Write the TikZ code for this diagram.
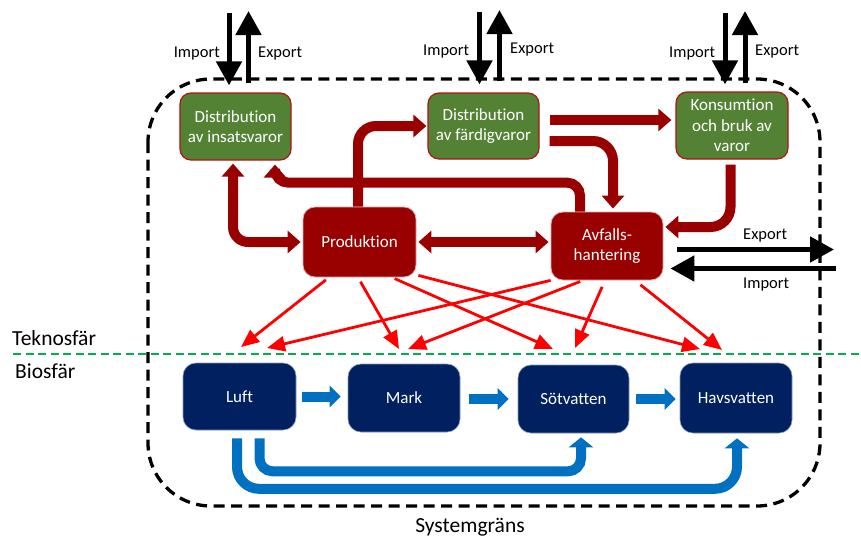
\documentclass[tikz,border=0pt]{standalone}
\usepackage{fontspec}
\setmainfont{Carlito}[Ligatures={NoCommon}]
\usetikzlibrary{arrows.meta,calc}
\definecolor{gfill}{RGB}{84,130,53}
\definecolor{dred}{RGB}{153,0,0}
\definecolor{gborder}{RGB}{175,20,20}
\definecolor{navy}{RGB}{0,32,96}
\definecolor{navyedge}{RGB}{130,150,190}
\definecolor{redge}{RGB}{225,170,170}
\definecolor{lblue}{RGB}{0,112,192}
\definecolor{tred}{RGB}{255,0,0}
\definecolor{sgreen}{RGB}{0,176,80}
\begin{document}
\begin{tikzpicture}[x=1pt,y=-1pt,
  font=\fontsize{17}{20.5}\selectfont,
  gbox/.style={draw=gborder, line width=1.2pt, fill=gfill, text=white, rounded corners=11pt, align=center, inner sep=1pt},
  rbox/.style={draw=redge, line width=0.8pt, fill=dred, text=white, rounded corners=12pt, align=center, inner sep=1pt},
  nbox/.style={draw=navyedge, line width=0.6pt, fill=navy, text=white, rounded corners=13pt, align=center, inner sep=1pt},
  lbl/.style={text=black, inner sep=0pt, font=\fontsize{16.5}{20}\selectfont},
  bigl/.style={text=black, inner sep=0pt, font=\fontsize{21.5}{24}\selectfont},
  darr/.style={draw=dred, line width=10pt, -{Triangle[length=13pt,width=22pt]}},
  ddarr/.style={draw=dred, line width=10pt, {Triangle[length=13pt,width=22pt]}-{Triangle[length=13pt,width=22pt]}},
  barr/.style={draw=black, line width=5pt, -{Triangle[length=24pt,width=25pt]}},
  tarr/.style={draw=tred, line width=2.8pt, -{Triangle[length=18pt,width=15pt]}},
  blarr/.style={draw=lblue, line width=10pt, -{Triangle[length=11pt,width=21pt]}},
  lblarr/.style={draw=lblue, line width=10pt, -{Triangle[length=10pt,width=24pt]}}
]
\useasboundingbox (0,0) rectangle (861,538);

% system boundary and sphere line
\draw[line width=3.3pt, dash pattern=on 11pt off 6.5pt, rounded corners=63pt] (148,79) rectangle (820,506);
\draw[sgreen, line width=2.7pt, dash pattern=on 8pt off 4.5pt] (13,354) -- (861,354);
\node[bigl, anchor=base west] (tekno) at (12,345) {Teknosfär};
\node[bigl, anchor=base west] (bio) at (15,378) {Biosfär};
\node[bigl, anchor=base] (sysg) at (470,532) {Systemgräns};

% boxes
\node[gbox, minimum width=111pt, minimum height=67pt] (din) at (235.5,126.5) {Distribution\\av insatsvaror};
\node[gbox, minimum width=111pt, minimum height=66pt] (dfa) at (483.5,126) {Distribution\\av färdigvaror};
\node[gbox, minimum width=112pt, minimum height=67pt] (kon) at (732,125.5) {Konsumtion\\och bruk av\\varor};
\node[rbox, minimum width=113pt, minimum height=70pt] (pro) at (359.5,242) {Produktion};
\node[rbox, minimum width=112pt, minimum height=68pt] (avf) at (607,246) {Avfalls-\\hantering};
\node[nbox, minimum width=113pt, minimum height=67pt] (luft) at (239.5,396.5) {Luft};
\node[nbox, minimum width=112pt, minimum height=68pt] (mark) at (404,398) {Mark};
\node[nbox, minimum width=111pt, minimum height=68pt] (sot) at (573.5,399) {Sötvatten};
\node[nbox, minimum width=112pt, minimum height=70pt] (hav) at (736,398) {Havsvatten};

% dark red flows
\draw[ddarr, rounded corners=15pt, shorten <=3pt, shorten >=2pt] ([xshift=-2.5pt]din.south) |- (pro.west);
\draw[darr, rounded corners=13pt, shorten >=4pt] ([xshift=-27pt]avf.north) -- ++(0,-29) -| ([xshift=39.5pt]din.south);
\draw[darr, rounded corners=18pt, shorten >=1pt] ([xshift=-1.5pt]pro.north) |- (dfa.west);
\draw[ddarr, shorten <=2pt, shorten >=2pt] (pro.east) -- (pro.east -| avf.west);
\draw[darr, shorten <=10pt, shorten >=4pt] ([yshift=6pt]dfa.east) -- ([yshift=6pt]dfa.east -| kon.west);
\draw[darr, rounded corners=20pt, shorten <=10pt, shorten >=3pt] ([yshift=-15pt]dfa.east) -| ([xshift=6pt]avf.north);
\draw[darr, rounded corners=20pt, shorten <=5pt, shorten >=2pt] ([xshift=-1.5pt]kon.south) |- ([yshift=19pt]avf.east);

% black import / export
\coordinate (i1) at (229,13);
\coordinate (e1) at (248.5,11);
\coordinate (i2) at (479.5,12);
\coordinate (e2) at (499.5,10);
\coordinate (i3) at (725,13);
\coordinate (e3) at (745,11);
\coordinate (er) at (834,249.5);
\coordinate (ir) at (836,268.5);
\draw[barr, shorten >=7pt] (i1) -- (i1 |- din.north);
\draw[barr, shorten <=9pt] (e1 |- din.north) -- (e1);
\draw[barr, shorten >=8pt] (i2) -- (i2 |- dfa.north);
\draw[barr, shorten <=11pt] (e2 |- dfa.north) -- (e2);
\draw[barr, shorten >=7pt] (i3) -- (i3 |- kon.north);
\draw[barr, shorten <=8pt] (e3 |- kon.north) -- (e3);
\draw[barr, shorten <=14pt] (avf.east |- er) -- (er);
\draw[barr, shorten >=7pt] (ir) -- (ir -| avf.east);

\node[lbl, anchor=base east] (limp1) at (220,57) {Import};
\node[lbl, anchor=base west] (lexp1) at (258,57) {Export};
\node[lbl, anchor=base west] (limp2) at (423,55) {Import};
\node[lbl, anchor=base west] (lexp2) at (510,53) {Export};
\node[lbl, anchor=base west] (limp3) at (669,57) {Import};
\node[lbl, anchor=base west] (lexp3) at (755,55) {Export};
\node[lbl, anchor=base west] (lexpr) at (743,239) {Export};
\node[lbl, anchor=base west] (limpr) at (743,288) {Import};

% thin red emissions
\coordinate (tp1) at (241,347);
\coordinate (ta1) at (267,348);
\coordinate (tp2) at (399,349);
\coordinate (ta2) at (408,349);
\coordinate (tp3) at (553,349);
\coordinate (ta3) at (575,348);
\coordinate (tp4) at (700,349);
\coordinate (ta4) at (722,350);
\draw[tarr, shorten <=4pt] ([xshift=-30.5pt]pro.south) -- (tp1);
\draw[tarr, shorten <=5pt] ([xshift=-1.5pt]pro.south) -- (tp2);
\draw[tarr, shorten <=3pt] ([xshift=32.5pt]pro.south) -- (tp3);
\draw[tarr] ([xshift=2pt,yshift=2pt]pro.south east) -- (tp4);
\draw[tarr] (avf.south west) -- (ta1);
\draw[tarr, shorten <=3pt] ([xshift=-24pt]avf.south) -- (ta2);
\draw[tarr, shorten <=7pt] ([xshift=-2pt]avf.south) -- (ta3);
\draw[tarr, shorten <=7pt] ([xshift=28pt]avf.south) -- (ta4);

% blue flows
\draw[blarr, shorten <=6pt, shorten >=7pt] (luft.east) -- (luft.east -| mark.west);
\draw[blarr, shorten <=9pt, shorten >=9pt] ([yshift=-1pt]mark.east) -- ([yshift=-1pt]mark.east -| sot.west);
\draw[blarr, shorten <=7pt, shorten >=4pt] (sot.east) -- (sot.east -| hav.west);
\draw[lblarr, rounded corners=13pt, shorten <=8pt, shorten >=4pt] ([xshift=20pt]luft.south) -- ++(0,41) -| ([xshift=7.5pt]sot.south);
\draw[lblarr, rounded corners=22pt, shorten <=8pt, shorten >=5pt] ([xshift=-2.5pt]luft.south) -- ++(0,58.5) -| ([xshift=1pt]hav.south);
\end{tikzpicture}
\end{document}
